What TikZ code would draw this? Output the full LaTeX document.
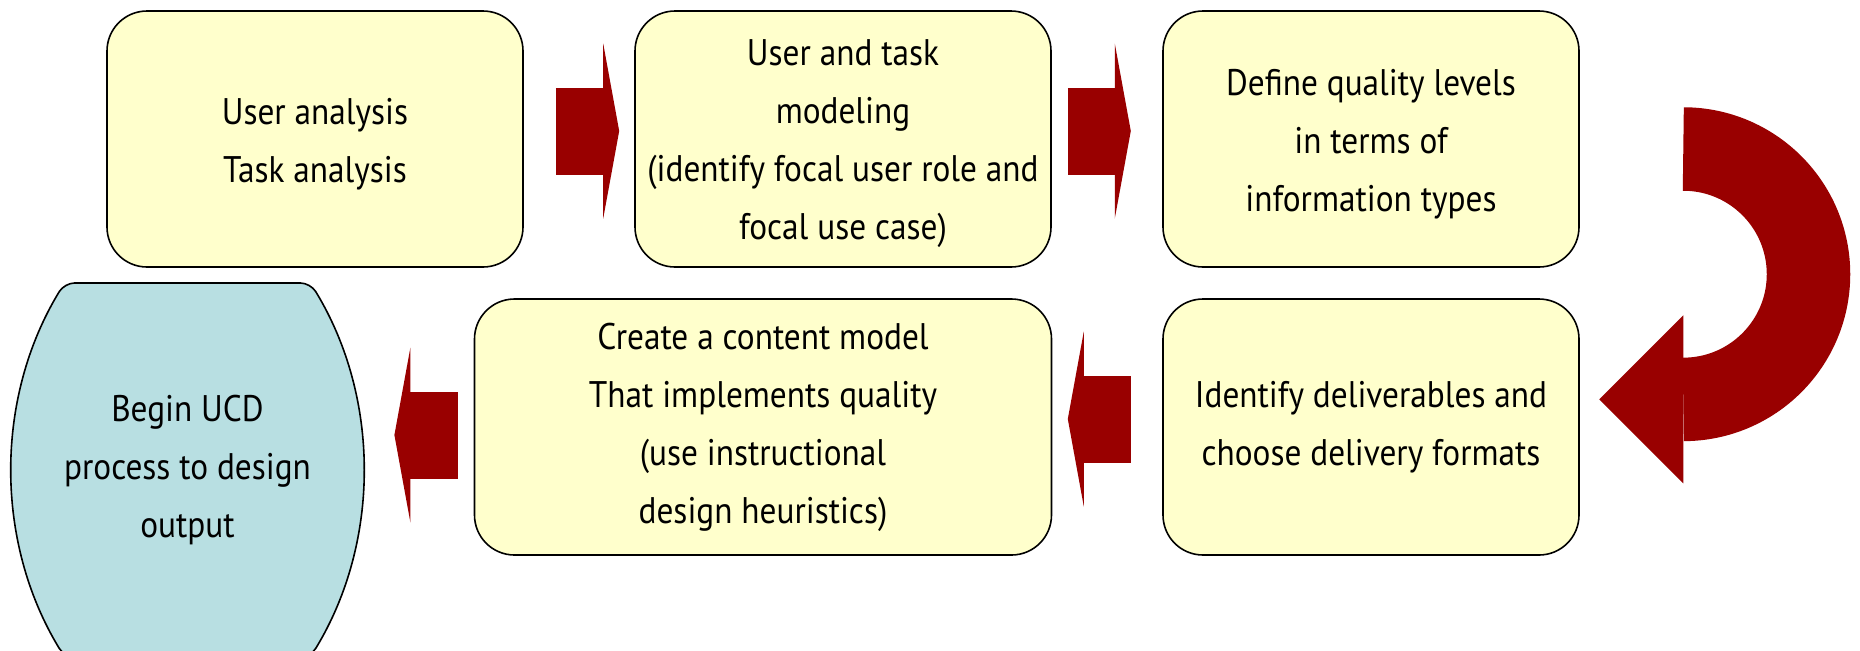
\documentclass[tikz,border=0pt]{standalone}
\usepackage{fontspec}
\setmainfont[FakeStretch=0.9]{PT Sans}
\usepackage{tikz}
\usetikzlibrary{arrows.meta,backgrounds}
\definecolor{boxyellow}{HTML}{FFFFCC}
\definecolor{ucdblue}{HTML}{B8DFE2}
\definecolor{darkred}{HTML}{990000}
\tikzstyle{stepbox} = [rectangle, rounded corners=20pt, minimum width=208pt, minimum height=128pt, align=center, draw=black, thick, fill=boxyellow, font=\fontsize{18.5}{29}\selectfont]
\tikzstyle{widebox} = [stepbox, minimum width=288.5pt]
\tikzstyle{endshape} = [rectangle, minimum width=175.5pt, minimum height=187pt, align=center, font=\fontsize{18.5}{29}\selectfont]
\tikzstyle{blockarrow} = [draw=darkred, line width=43.5pt, -{Triangle[length=8pt,width=87.5pt,line width=0pt]}]
\tikzstyle{bentarrow} = [draw=darkred, line width=41.75pt, -{Triangle[length=42pt,width=84pt,line width=0pt]}]

\begin{document}
\begin{tikzpicture}[node distance=264pt]
\useasboundingbox (0,0) rectangle (930pt,-325pt);
\node (u1)  [stepbox] at (157.5pt,-69.5pt) {\\[-11pt]User analysis\\Task analysis};
\node (u2)  [stepbox, right of=u1] {\\[-11pt]User and task\\modeling\\(identify focal user role and\\focal use case)};
\node (u3)  [stepbox, right of=u2] {\\[-11pt]Define quality levels\\in terms of\\information types};
\node (u4)  [stepbox, below of=u3, yshift=120pt] {Identify deliverables and\\choose delivery formats};
\node (u5)  [widebox, left of=u4, xshift=-40pt] {Create a content model\\That implements quality\\(use instructional\\design heuristics)};
\node (ucd) [endshape, left of=u5, xshift=-23.75pt, yshift=-21.5pt] {Begin UCD\\process to design\\output};

\begin{scope}[on background layer]
\draw [thick, fill=ucdblue, rounded corners=5pt, shift={(ucd.center)}] (0,93.5pt) -- (61.5pt,93.5pt) .. controls (96.5pt,36pt) and (96.5pt,-36pt) .. (61.5pt,-93.5pt) -- (-61.5pt,-93.5pt) .. controls (-96.5pt,-36pt) and (-96.5pt,36pt) .. (-61.5pt,93.5pt) -- cycle;
\end{scope}

\coordinate (a4) at ([yshift=-4pt]u5.west);
\draw [blockarrow, shorten <=16pt, shorten >=7.5pt] ([yshift=4pt]u1.east) -- ([yshift=4pt]u2.west);
\draw [blockarrow, shorten <=8pt, shorten >=15.7pt] ([yshift=4pt]u2.east) -- ([yshift=4pt]u3.west);
\draw [bentarrow] ([xshift=51.75pt,yshift=-5pt]u3.east) arc[start angle=90, end angle=-90, radius=62.6pt] -- ++(-42pt,0);
\draw [blockarrow, shorten <=15.65pt, shorten >=7.75pt] ([yshift=4pt]u4.west) -- ([yshift=4pt]u5.east);
\draw [blockarrow, shorten <=8pt, shorten >=15.5pt] (a4) -- (a4 -| ucd.east);
\end{tikzpicture}
\end{document}
